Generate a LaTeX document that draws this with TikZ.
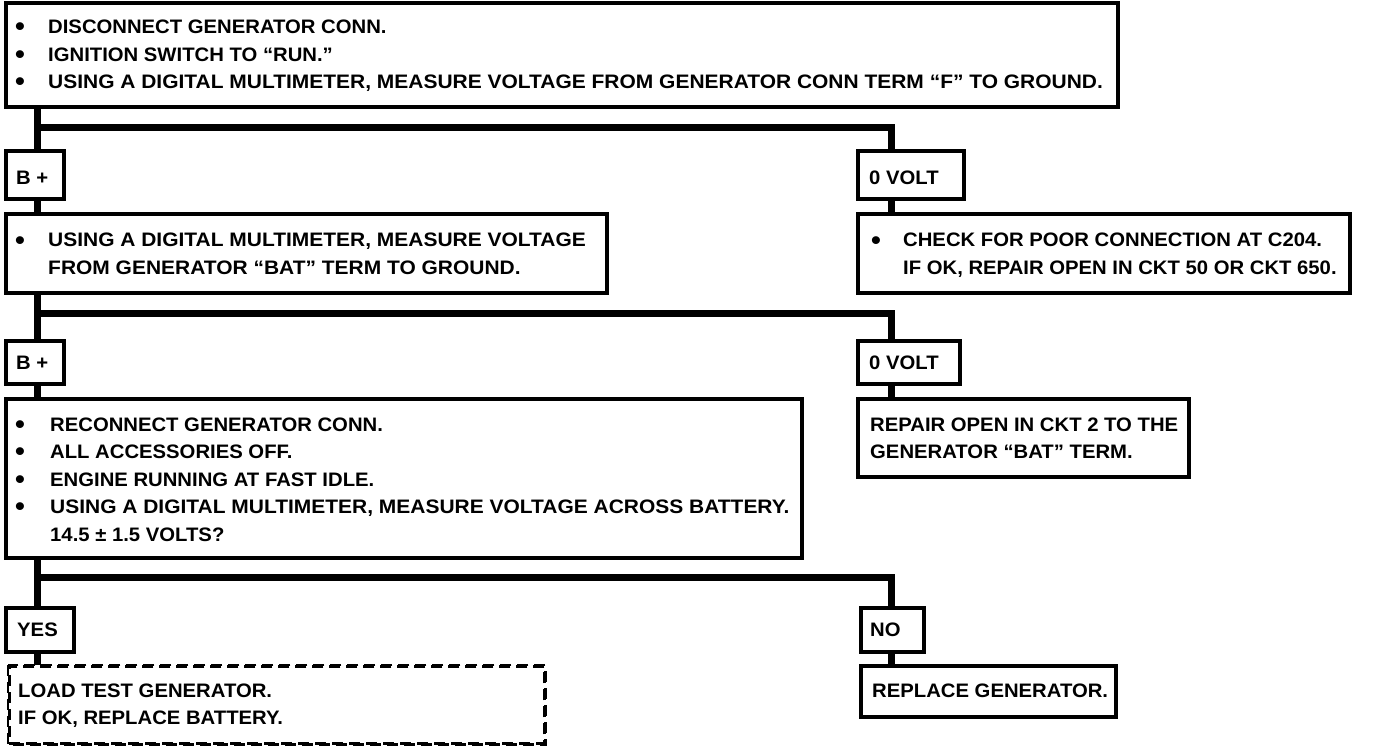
\documentclass[tikz,border=0pt]{standalone}
\usepackage{fontspec}
\setmainfont{Liberation Sans}[FakeStretch=1.04]
\newfontfamily\widefont{Liberation Sans}[FakeStretch=1.075]
\usetikzlibrary{calc}
\tikzset{
  box/.style={draw=black, line width=2.6pt, fill=white, inner sep=0pt, anchor=north west},
  dbox/.style={box, dash pattern=on 11pt off 6pt},
  conn/.style={draw=black, line width=7pt, line join=miter},
  txt/.style={anchor=base west, inner sep=0pt, font=\fontsize{19.5}{27.5}\selectfont\bfseries},
  wtxt/.style={txt, font=\fontsize{19.5}{27.5}\widefont\bfseries},
  bul/.style={anchor=base, inner sep=0pt, font=\fontsize{27}{27.5}\selectfont\bfseries, yshift=-2pt},
}
\begin{document}
\begin{tikzpicture}[x=1pt,y=-1pt]
\useasboundingbox (0,0) rectangle (1376,746);
% coordinates of trunks
\coordinate (xl) at (37,0);
\coordinate (xr) at (891,0);
\coordinate (j1) at (37,128);
\coordinate (j2) at (37,313);
\coordinate (j3) at (37,577);
% boxes
\node[box, minimum width=1111pt, minimum height=103pt] (b1) at (5,2) {};
\node[box, minimum width=57pt, minimum height=47pt] (l1) at (5,150) {};
\node[box, minimum width=105pt, minimum height=47pt] (r1) at (857,150) {};
\node[box, minimum width=600pt, minimum height=78pt] (b2) at (5,213) {};
\node[box, minimum width=491pt, minimum height=78pt] (rb1) at (857,213) {};
\node[box, minimum width=57pt, minimum height=42pt] (l2) at (5,340) {};
\node[box, minimum width=101pt, minimum height=42pt] (r2) at (857,340) {};
\node[box, minimum width=795pt, minimum height=158pt] (b3) at (5,398) {};
\node[box, minimum width=330pt, minimum height=77pt] (rb2) at (857,398) {};
\node[box, minimum width=67pt, minimum height=43pt] (l3) at (5,607) {};
\node[box, minimum width=62pt, minimum height=43pt] (r3) at (860,607) {};
\node[dbox, minimum width=535pt, minimum height=77pt] (b4) at (8,665) {};
\node[box, minimum width=254pt, minimum height=50pt] (rb3) at (860,665) {};
% connectors
\draw[conn] (b1.south -| xl) -- (l1.north -| xl);
\draw[conn] (j1) -| (r1.north -| xr);
\draw[conn] (l1.south -| xl) -- (b2.north -| xl);
\draw[conn] (r1.south -| xr) -- (rb1.north -| xr);
\draw[conn] (b2.south -| xl) -- (l2.north -| xl);
\draw[conn] (j2) -| (r2.north -| xr);
\draw[conn] (l2.south -| xl) -- (b3.north -| xl);
\draw[conn] (r2.south -| xr) -- (rb2.north -| xr);
\draw[conn] (b3.south -| xl) -- (l3.north -| xl);
\draw[conn] (j3) -| (r3.north -| xr);
\draw[conn] (l3.south -| xl) -- (b4.north -| xl);
\draw[conn] (r3.south -| xr) -- (rb3.north -| xr);
% redraw boxes borders over connector ends
\foreach \n in {b1,l1,r1,b2,rb1,l2,r2,b3,rb2,l3,r3,rb3}
  \draw[line width=2.6pt] (\n.north west) rectangle (\n.south east);
\draw[line width=2.6pt, dash pattern=on 11pt off 6pt] (b4.north west) rectangle (b4.south east);
% texts box 1
\node[bul] (b1d1) at (20,34) {•};
\node[txt] (b1t1) at (48,34) {DISCONNECT GENERATOR CONN.};
\node[bul] (b1d2) at (20,61.5) {•};
\node[txt] (b1t2) at (48,61.5) {IGNITION SWITCH TO “RUN.”};
\node[bul] (b1d3) at (20,89) {•};
\node[wtxt] (b1t3) at (48,89) {USING A DIGITAL MULTIMETER, MEASURE VOLTAGE FROM GENERATOR CONN TERM “F” TO GROUND.};
% labels
\node[txt] (l1t) at (16,185) {B +};
\node[txt] (r1t) at (869,185) {0 VOLT};
\node[txt] (l2t) at (16,369) {B +};
\node[txt] (r2t) at (869,369) {0 VOLT};
\node[txt] (l3t) at (17,636) {YES};
\node[txt] (r3t) at (870,636) {NO};
% box 2
\node[bul] (b2d1) at (20,247) {•};
\node[wtxt] (b2t1) at (48,247) {USING A DIGITAL MULTIMETER, MEASURE VOLTAGE};
\node[wtxt] (b2t2) at (48,274.5) {FROM GENERATOR “BAT” TERM TO GROUND.};
% right box 1
\node[bul] (rb1d1) at (876,247) {•};
\node[txt] (rb1t1) at (903,247) {CHECK FOR POOR CONNECTION AT C204.};
\node[txt] (rb1t2) at (903,274.5) {IF OK, REPAIR OPEN IN CKT 50 OR CKT 650.};
% box 3
\node[bul] (b3d1) at (20,431) {•};
\node[txt] (b3t1) at (50,431) {RECONNECT GENERATOR CONN.};
\node[bul] (b3d2) at (20,458.5) {•};
\node[txt] (b3t2) at (50,458.5) {ALL ACCESSORIES OFF.};
\node[bul] (b3d3) at (20,486) {•};
\node[txt] (b3t3) at (50,486) {ENGINE RUNNING AT FAST IDLE.};
\node[bul] (b3d4) at (20,513.5) {•};
\node[wtxt] (b3t4) at (50,513.5) {USING A DIGITAL MULTIMETER, MEASURE VOLTAGE ACROSS BATTERY.};
\node[txt] (b3t5) at (50,541) {14.5 ± 1.5 VOLTS?};
% right box 2
\node[txt] (rb2t1) at (870,431) {REPAIR OPEN IN CKT 2 TO THE};
\node[txt] (rb2t2) at (870,458.5) {GENERATOR “BAT” TERM.};
% dashed box
\node[txt] (b4t1) at (18,697) {LOAD TEST GENERATOR.};
\node[txt] (b4t2) at (18,724.5) {IF OK, REPLACE BATTERY.};
% right box 3
\node[txt] (rb3t1) at (872,697) {REPLACE GENERATOR.};
\end{tikzpicture}
\end{document}
